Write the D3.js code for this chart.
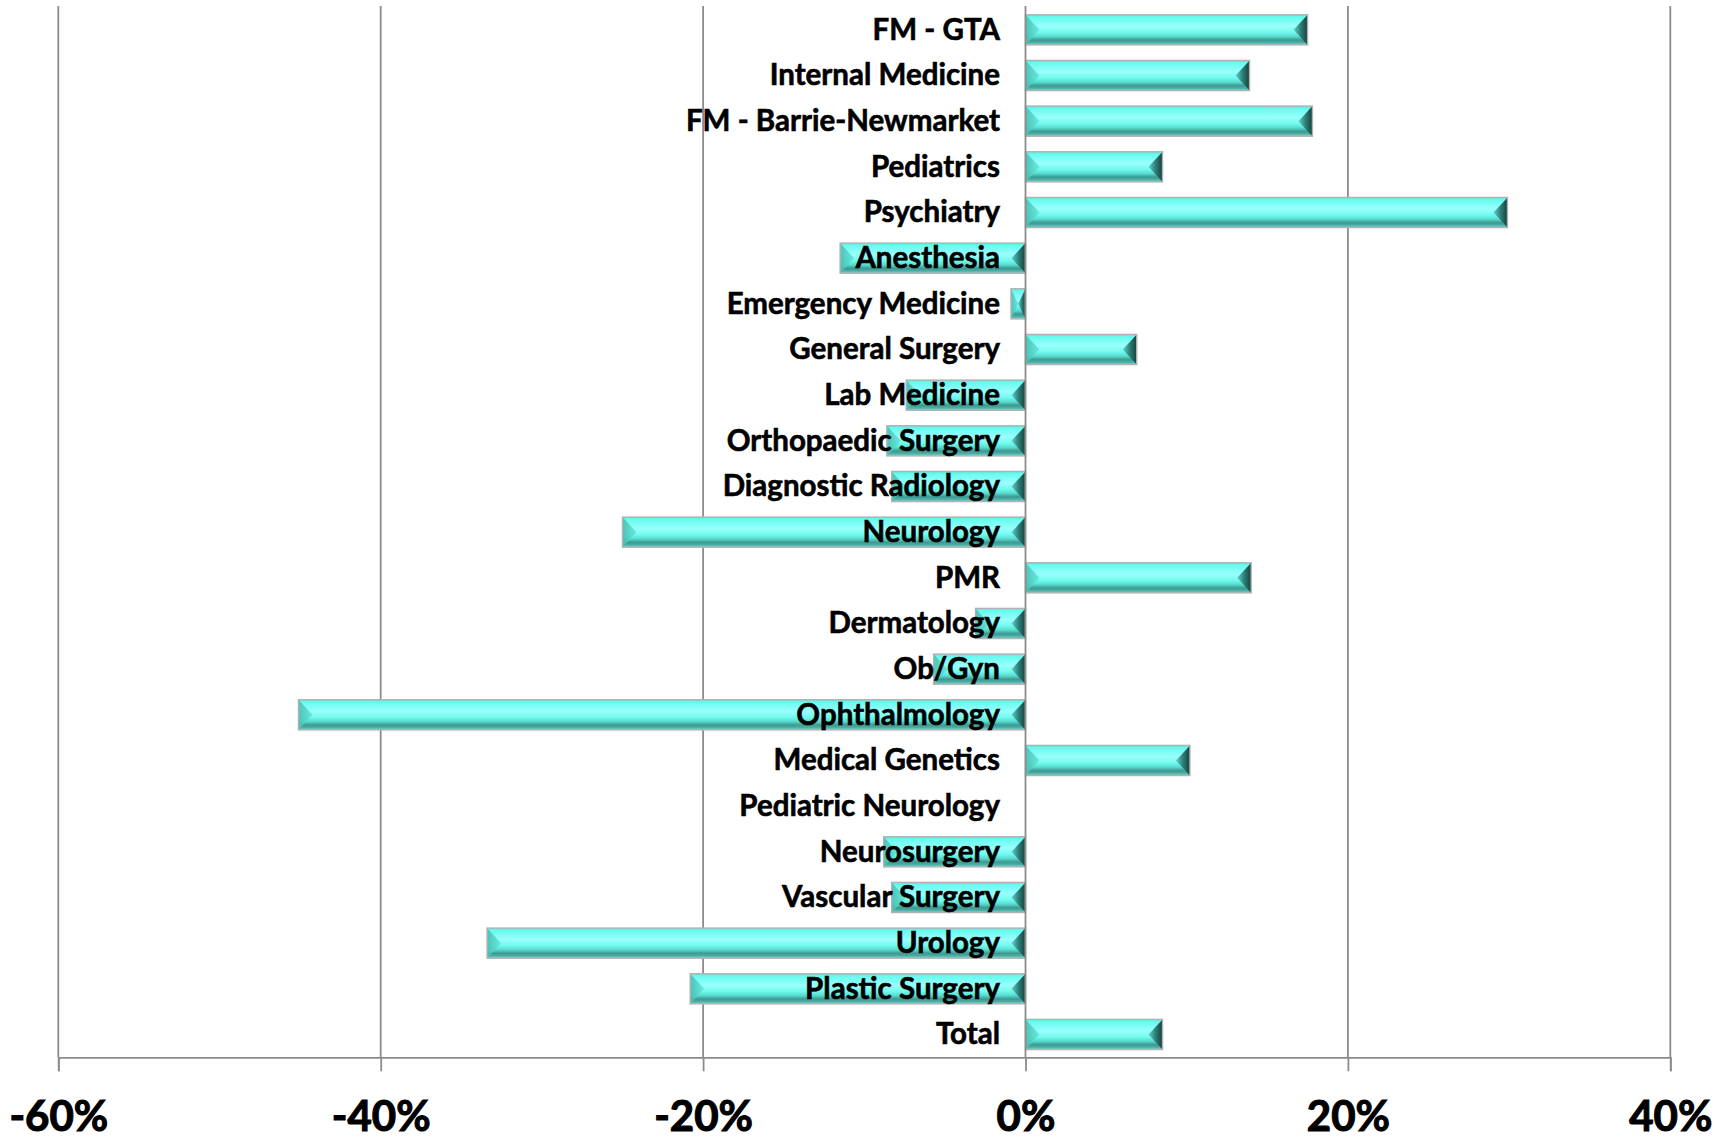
<!DOCTYPE html>
<html>
<head>
<meta charset="utf-8">
<script src="https://cdn.jsdelivr.net/npm/d3@7"></script>
<style>
  html, body { margin: 0; padding: 0; background: #fff; }
  svg { display: block; }
</style>
</head>
<body>
<svg id="chart" width="1734" height="1139"></svg>
<script>
const categories = [
  "FM - GTA", "Internal Medicine", "FM - Barrie-Newmarket", "Pediatrics", "Psychiatry",
  "Anesthesia", "Emergency Medicine", "General Surgery", "Lab Medicine", "Orthopaedic Surgery",
  "Diagnostic Radiology", "Neurology", "PMR", "Dermatology", "Ob/Gyn", "Ophthalmology",
  "Medical Genetics", "Pediatric Neurology", "Neurosurgery", "Vascular Surgery", "Urology",
  "Plastic Surgery", "Total"
];
const values = [
  17.5, 13.9, 17.8, 8.5, 29.9,
  -11.5, -0.9, 6.9, -7.4, -8.6,
  -8.3, -25.0, 14.0, -3.1, -5.7, -45.1,
  10.2, 0, -8.8, -8.3, -33.4,
  -20.8, 8.5
];
const tickValues = [-60, -40, -20, 0, 20, 40];
const tickLabels = ["-60%", "-40%", "-20%", "0%", "20%", "40%"];

(function () {
const data = categories.map((c, i) => ({ cat: c, val: values[i] }));

const svg = d3.select("#chart");
const pLeft = 58.3, pRight = 1670.3, pTop = 6, pBottom = 1057.3;

const x = d3.scaleLinear().domain([-60, 40]).range([pLeft, pRight]);
const y = d3.scaleBand().domain(categories).range([pTop + 1, pBottom]).paddingInner(0.34).paddingOuter(0.17);

// gradients
const defs = svg.append("defs");
const gv = defs.append("linearGradient").attr("id", "barV").attr("x1", 0).attr("y1", 0).attr("x2", 0).attr("y2", 1);
[[0, "#62e6da"], [0.08, "#66fbee"], [0.38, "#9afffd"], [0.58, "#72faee"], [0.72, "#58dccf"],
 [0.84, "#3e9890"], [0.92, "#4aafa6"], [1, "#7ad6ce"]].forEach(([o, c]) =>
  gv.append("stop").attr("offset", o).attr("stop-color", c));
const gl = defs.append("linearGradient").attr("id", "barL").attr("x1", 0).attr("y1", 0).attr("x2", 1).attr("y2", 0);
[[0, "#47bdb2"], [1, "#62e9dc"]].forEach(([o, c]) => gl.append("stop").attr("offset", o).attr("stop-color", c));
const gr = defs.append("linearGradient").attr("id", "barR").attr("x1", 0).attr("y1", 0).attr("x2", 1).attr("y2", 0);
[[0, "#5ed3c8"], [0.5, "#2f7f78"], [1, "#14403b"]].forEach(([o, c]) => gr.append("stop").attr("offset", o).attr("stop-color", c));

// gridlines
svg.append("g").selectAll("line").data(tickValues.filter(d => d !== 0)).join("line")
  .attr("x1", d => x(d)).attr("x2", d => x(d))
  .attr("y1", pTop).attr("y2", pBottom)
  .attr("stroke", "#8c8c8c").attr("stroke-width", 1.8);

// bars
const bars = svg.append("g").selectAll("g").data(data.filter(d => d.val !== 0)).join("g");
bars.each(function(d) {
  const g = d3.select(this);
  const x0 = x(Math.min(0, d.val)), x1 = x(Math.max(0, d.val));
  const y0 = y(d.cat), h = y.bandwidth(), y1 = y0 + h, yc = y0 + h / 2;
  const b = Math.min(14, (x1 - x0) / 2);
  g.append("rect").attr("x", x0).attr("y", y0).attr("width", x1 - x0).attr("height", h)
    .attr("fill", "url(#barV)");
  g.append("polygon").attr("points", [[x0, y0], [x0 + b, yc], [x0, y1]].join(" "))
    .attr("fill", "url(#barL)").attr("opacity", 0.9);
  g.append("polygon").attr("points", [[x1, y0], [x1 - b, yc], [x1, y1]].join(" "))
    .attr("fill", "url(#barR)");
  g.append("rect").attr("x", x0).attr("y", y0).attr("width", x1 - x0).attr("height", h)
    .attr("fill", "none").attr("stroke", "#b2b2b2").attr("stroke-width", 1.4);
});

// zero line
svg.append("line").attr("x1", x(0)).attr("x2", x(0)).attr("y1", pTop).attr("y2", pBottom)
  .attr("stroke", "#8c8c8c").attr("stroke-width", 1.8);

// x axis
const axis = d3.axisBottom(x).tickValues(tickValues).tickSize(14).tickPadding(0)
  .tickFormat((d, i) => tickLabels[i]);
const ax = svg.append("g").attr("transform", `translate(0,${pBottom})`).call(axis);
ax.select(".domain").attr("stroke", "#8c8c8c").attr("stroke-width", 1.8);
ax.selectAll(".tick line").attr("stroke", "#8c8c8c").attr("stroke-width", 1.8);
ax.selectAll(".tick text")
  .attr("y", 74).attr("dy", 0)
  .attr("fill", "#000")
  .attr("stroke", "#000").attr("stroke-width", 1.1)
  .style("font-family", "Lato, 'Open Sans', sans-serif")
  .style("font-weight", "bold")
  .style("font-size", "42px");

// category labels
svg.append("g").selectAll("text").data(data).join("text")
  .attr("x", 1000)
  .attr("y", d => y(d.cat) + y.bandwidth() / 2 + 10)
  .attr("text-anchor", "end")
  .attr("fill", "#000")
  .attr("stroke", "#000").attr("stroke-width", 0.6)
  .style("font-family", "Lato, 'Open Sans', sans-serif")
  .style("font-weight", "bold")
  .style("font-size", "29.5px")
  .text(d => d.cat);
})();
</script>
</body>
</html>
